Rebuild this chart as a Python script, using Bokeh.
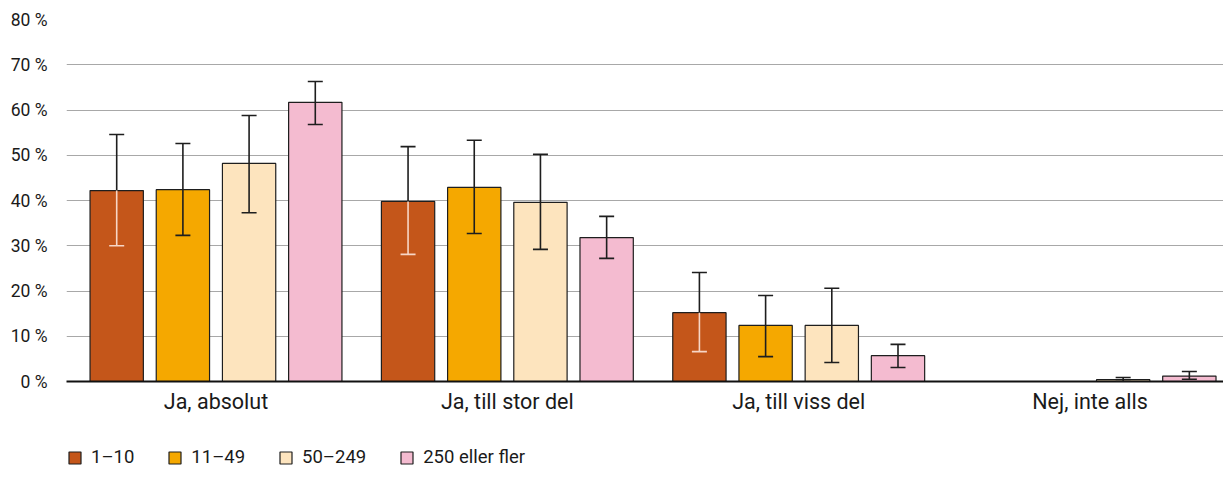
from bokeh.plotting import figure
from bokeh.layouts import column
from bokeh.models import (ColumnDataSource, Range1d, FixedTicker, Whisker, TeeHead,
                          Legend, LegendItem)
from bokeh.embed import file_html
from bokeh.resources import INLINE

# ---- data ----
categories = ["Ja, absolut", "Ja, till stor del", "Ja, till viss del", "Nej, inte alls"]
series = ["1–10", "11–49", "50–249", "250 eller fler"]
colors = ["#C4561A", "#F5A800", "#FDE4BE", "#F4BBD0"]

val_1_10 = [42.2, 39.8, 15.2, None]
val_11_49 = [42.4, 42.9, 12.4, None]
val_50_249 = [48.2, 39.6, 12.4, 0.4]
val_250 = [61.7, 31.8, 5.7, 1.2]

up_1_10 = [54.6, 51.9, 24.1, None]
up_11_49 = [52.6, 53.3, 19.0, None]
up_50_249 = [58.8, 50.2, 20.6, 0.9]
up_250 = [66.3, 36.5, 8.2, 2.2]

lo_1_10 = [30.0, 28.1, 6.6, None]
lo_11_49 = [32.3, 32.7, 5.5, None]
lo_50_249 = [37.3, 29.2, 4.2, 0.0]
lo_250 = [56.8, 27.2, 3.1, 0.5]

y_ticks = [0, 10, 20, 30, 40, 50, 60, 70, 80]
y_tick_labels = ["0 %", "10 %", "20 %", "30 %", "40 %", "50 %", "60 %", "70 %", "80 %"]

values = [val_1_10, val_11_49, val_50_249, val_250]
uppers = [up_1_10, up_11_49, up_50_249, up_250]
lowers = [lo_1_10, lo_11_49, lo_50_249, lo_250]

FONT = "Roboto"
W = 1223
H_MAIN = 441
H_LEG = 28

p = figure(width=W, height=H_MAIN, output_backend="svg", toolbar_location=None,
           x_range=Range1d(-0.0131, 3.958), y_range=Range1d(0, 80),
           min_border_left=66, min_border_right=0, min_border_top=19,
           min_border_bottom=60)
p.outline_line_color = None
p.background_fill_color = "white"
p.border_fill_color = "white"

group_step = 0.2272
bar_w = 0.183
lw = 1.6
dark = "#1e1e1e"

for j, (name, col) in enumerate(zip(series, colors)):
    xs, tops, ups, los = [], [], [], []
    for i in range(len(categories)):
        v = values[j][i]
        if v is None:
            continue
        xs.append(i + 0.5 + (j - 1.5) * group_step)
        tops.append(v)
        ups.append(uppers[j][i])
        los.append(lowers[j][i])
    src = ColumnDataSource(dict(x=xs, top=tops, upper=ups, lower=los))
    p.vbar(x="x", top="top", bottom=0, width=bar_w, source=src,
           fill_color=col, line_color=dark, line_width=1.2)
    if j == 0:
        w1 = Whisker(source=src, base="x", lower="top", upper="upper",
                     line_color=dark, line_width=lw, lower_head=None,
                     upper_head=TeeHead(size=15, line_color=dark, line_width=lw),
                     level="overlay")
        w2 = Whisker(source=src, base="x", lower="lower", upper="top",
                     line_color="#F7D6C6", line_width=lw, upper_head=None,
                     lower_head=TeeHead(size=15, line_color="#F7D6C6", line_width=lw),
                     level="overlay")
        p.add_layout(w1)
        p.add_layout(w2)
    else:
        w = Whisker(source=src, base="x", lower="lower", upper="upper",
                    line_color=dark, line_width=lw,
                    upper_head=TeeHead(size=15, line_color=dark, line_width=lw),
                    lower_head=TeeHead(size=15, line_color=dark, line_width=lw),
                    level="overlay")
        p.add_layout(w)

# axes
p.xaxis.ticker = FixedTicker(ticks=[i + 0.5 for i in range(len(categories))])
p.xaxis.major_label_overrides = {i + 0.5: c for i, c in enumerate(categories)}
p.xaxis.major_tick_line_color = None
p.xaxis.major_tick_out = 0
p.xaxis.major_tick_in = 0
p.xaxis.minor_tick_line_color = None
p.xaxis.minor_tick_out = 0
p.xaxis.axis_line_color = "#111111"
p.xaxis.axis_line_width = 1.8
p.xaxis.major_label_standoff = 7
p.xaxis.major_label_text_font = FONT
p.xaxis.major_label_text_font_size = "21.5px"
p.xaxis.major_label_text_color = "#1a1a1a"

p.yaxis.ticker = FixedTicker(ticks=y_ticks)
p.yaxis.major_label_overrides = {t: l for t, l in zip(y_ticks, y_tick_labels)}
p.yaxis.axis_line_color = None
p.yaxis.major_tick_line_color = None
p.yaxis.major_tick_out = 0
p.yaxis.major_tick_in = 0
p.yaxis.minor_tick_line_color = None
p.yaxis.minor_tick_out = 0
p.yaxis.major_label_standoff = 19
p.yaxis.major_label_text_font = FONT
p.yaxis.major_label_text_font_size = "17.5px"
p.yaxis.major_label_text_color = "#1a1a1a"

p.xgrid.grid_line_color = None
p.ygrid.ticker = FixedTicker(ticks=y_ticks[1:])
p.ygrid.grid_line_color = "#a8a8a8"
p.ygrid.grid_line_width = 1

# ---- legend strip (frame aligned with the chart above) ----
pl = figure(width=W, height=H_LEG, output_backend="svg", toolbar_location=None,
            x_axis_type=None, y_axis_type=None,
            x_range=Range1d(0, 1), y_range=Range1d(0, 1),
            min_border=0)
pl.outline_line_color = None
pl.grid.visible = False
leg_renderers = []
for name, col in zip(series, colors):
    # legend key only: hidden renderer, its glyph is drawn only in the legend
    r = pl.vbar(x=[0.5], bottom=[0.2], top=[0.8], width=0.1, fill_color=col,
                line_color=dark, line_width=1.2, visible=False)
    leg_renderers.append(r)

legend = Legend(items=[LegendItem(label=s, renderers=[r]) for s, r in zip(series, leg_renderers)],
                orientation="horizontal", location=(1, 1),
                glyph_width=15, glyph_height=15, label_height=15, label_width=10,
                label_standoff=9, spacing=33, padding=0, margin=0,
                border_line_color=None, background_fill_alpha=0,
                inactive_fill_alpha=0,
                label_text_font=FONT, label_text_font_size="18.5px",
                label_text_color="#1a1a1a")
pl.add_layout(legend, "center")

layout = column(p, pl, spacing=0)
open("out.html", "w").write(file_html(layout, INLINE))
